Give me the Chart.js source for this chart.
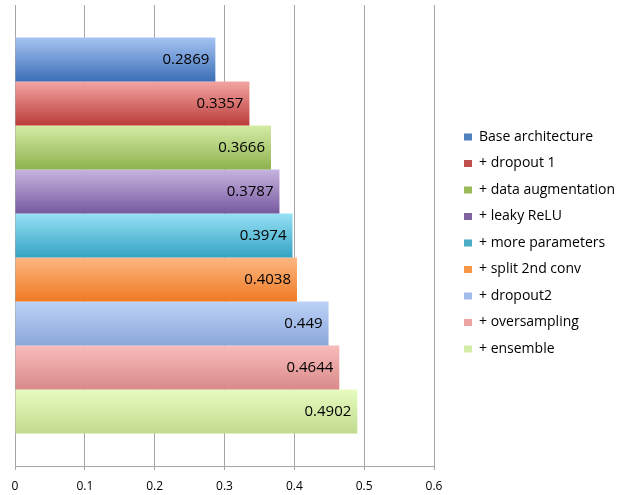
<!DOCTYPE html>
<html>
<head>
<meta charset="utf-8">
<script src="https://cdn.jsdelivr.net/npm/chart.js@4/dist/chart.umd.min.js"></script>
<style>
  body { margin: 0; background: #fff; }
</style>
</head>
<body>
<canvas id="chart" width="624" height="495"></canvas>
<script>
const seriesNames = ["Base architecture", "+ dropout 1", "+ data augmentation", "+ leaky ReLU",
  "+ more parameters", "+ split 2nd conv", "+ dropout2", "+ oversampling", "+ ensemble"];
const seriesValues = [0.2869, 0.3357, 0.3666, 0.3787, 0.3974, 0.4038, 0.449, 0.4644, 0.4902];
const xTicks = [0, 0.1, 0.2, 0.3, 0.4, 0.5, 0.6];

// top / bottom of each bar's gradient, plus the flat legend swatch
const topColors = ["#a6c3f2", "#f3a4a2", "#d4eca5", "#c7b4e0", "#96e1f5", "#fdb783", "#bcd2f8", "#f9bbbb", "#e6fcbf"];
const bottomColors = ["#3b6fb6", "#bb3d3a", "#8fb24f", "#77599f", "#35a3c3", "#ef7a22", "#8ba7d8", "#d98a89", "#c1da8e"];
const legendColors = ["#4f81bd", "#c0504d", "#9bbb59", "#8064a2", "#4bacc6", "#f79646", "#a3bdea", "#eda3a2", "#d3eca8"];

const catPct = 0.859;

function barFill(ctx) {
  const chart = ctx.chart;
  const area = chart.chartArea;
  const i = ctx.datasetIndex;
  if (!area) return legendColors[i];
  const band = area.bottom - area.top;
  const total = band * catPct;
  const each = total / seriesValues.length;
  const top = area.top + (band - total) / 2 + i * each;
  const g = chart.ctx.createLinearGradient(0, top, 0, top + each);
  g.addColorStop(0, topColors[i]);
  g.addColorStop(1, bottomColors[i]);
  return g;
}

const valueLabels = {
  id: 'valueLabels',
  afterDatasetsDraw(chart) {
    const c = chart.ctx;
    c.save();
    c.font = '15px "Open Sans"';
    c.fillStyle = '#000';
    c.textAlign = 'right';
    c.textBaseline = 'middle';
    chart.data.datasets.forEach((ds, i) => {
      const bar = chart.getDatasetMeta(i).data[0];
      c.fillText(String(ds.data[0]), bar.x - 6, bar.y);
    });
    c.restore();
  }
};

// legend box wider than its items so there is a gap after the plot,
// and nudged up a little to sit where the original one does
const legendGap = {
  id: 'legendGap',
  afterInit(chart) {
    const lg = chart.legend;
    const fit = lg.fit;
    lg.fit = function () { fit.call(this); this.width = 190; };
    const draw = lg.draw;
    lg.draw = function () {
      this.left += 17.5; this.top -= 7; this.bottom -= 7;
      draw.call(this);
      this.left -= 17.5; this.top += 7; this.bottom += 7;
    };
  }
};

new Chart(document.getElementById('chart'), {
  type: 'bar',
  data: {
    labels: [''],
    datasets: seriesNames.map((name, i) => ({
      label: name,
      data: [seriesValues[i]],
      backgroundColor: barFill,
      borderWidth: 0
    }))
  },
  options: {
    indexAxis: 'y',
    responsive: false,
    animation: false,
    categoryPercentage: catPct,
    barPercentage: 1,
    layout: { padding: { left: 15, top: 5, bottom: 0, right: 0 } },
    plugins: {
      tooltip: { enabled: false },
      legend: {
        position: 'right',
        labels: {
          font: { family: 'Open Sans', size: 14 },
          color: '#000',
          boxWidth: 8,
          boxHeight: 7,
          padding: 12.5,
          generateLabels: chart => chart.data.datasets.map((ds, i) => ({
            text: ds.label,
            fillStyle: legendColors[i],
            strokeStyle: legendColors[i],
            lineWidth: 0,
            hidden: false,
            datasetIndex: i
          }))
        }
      }
    },
    scales: {
      x: {
        min: 0,
        max: 0.6,
        afterBuildTicks: scale => { scale.ticks = xTicks.map(v => ({ value: v })); },
        afterFit: scale => { scale.height = 29; },
        grid: { color: '#a6a6a6', tickLength: 4 },
        border: { color: '#a6a6a6' },
        ticks: { font: { family: 'Open Sans', size: 12 }, color: '#000', padding: 9 }
      },
      y: {
        display: false
      }
    }
  },
  plugins: [valueLabels, legendGap]
});
</script>
</body>
</html>
